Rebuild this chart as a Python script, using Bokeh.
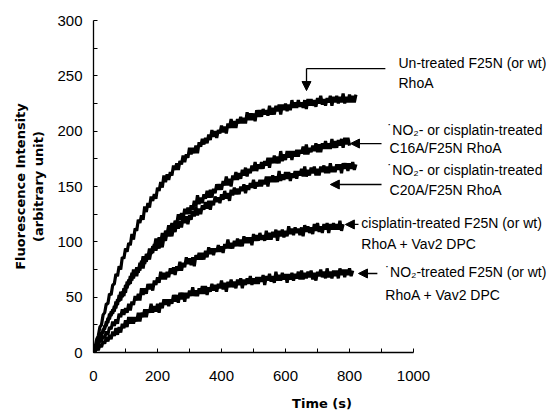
from bokeh.plotting import figure
from bokeh.models import Range1d, FixedTicker, Arrow, NormalHead, Label
from bokeh.embed import file_html
from bokeh.resources import INLINE

# sample times (s), one reading every 5 s
time_s = list(range(0, 825, 5))

untreated = [0, 5, 12, 15, 23, 25, 34, 36, 44, 44, 53, 52, 61, 62, 71, 69, 78, 75, 86, 85,
             94, 91, 99, 97, 107, 102, 112, 110, 120, 117, 124, 120, 132, 127, 135, 131, 141, 137, 143, 139,
             149, 146, 154, 149, 160, 154, 161, 156, 163, 160, 169, 165, 171, 165, 173, 170, 178, 172, 179, 176,
             185, 179, 185, 180, 187, 180, 190, 186, 193, 188, 194, 189, 197, 192, 201, 195, 200, 194, 201, 198,
             205, 199, 204, 198, 207, 203, 211, 203, 209, 203, 211, 207, 213, 207, 212, 207, 217, 210, 216, 210,
             216, 209, 219, 213, 219, 213, 220, 215, 219, 214, 223, 215, 221, 215, 223, 218, 224, 215, 224, 219,
             225, 218, 224, 219, 228, 221, 226, 221, 228, 222, 226, 221, 228, 220, 229, 223, 229, 223, 228, 222,
             230, 225, 232, 224, 229, 223, 230, 226, 232, 223, 231, 226, 232, 225, 231, 226, 234, 225, 231, 226,
             233, 226, 232, 226, 233]
c16a = [0, 4, 6, 11, 12, 18, 18, 24, 24, 31, 30, 37, 35, 42, 40, 48, 46, 55, 50, 58,
        54, 64, 61, 69, 65, 75, 70, 77, 72, 81, 78, 87, 80, 89, 86, 94, 89, 96, 94, 103,
        97, 104, 99, 108, 101, 110, 107, 115, 111, 117, 112, 119, 116, 125, 120, 126, 120, 130, 125, 131,
        125, 133, 129, 137, 132, 142, 134, 140, 135, 143, 139, 146, 140, 147, 140, 148, 144, 152, 147, 152,
        147, 155, 151, 159, 151, 157, 150, 160, 156, 163, 156, 162, 157, 165, 160, 167, 159, 166, 162, 169,
        164, 172, 164, 170, 166, 172, 166, 173, 169, 176, 167, 176, 171, 178, 171, 177, 171, 182, 173, 179,
        174, 182, 176, 182, 174, 182, 177, 183, 177, 183, 180, 186, 179, 188, 179, 185, 181, 187, 182, 189,
        181, 188, 181, 189, 184, 191, 184, 189, 184, 193, 185, 191, 185, 192, 187, 193, 185, 194, 188, 194,
        187]
c20a = [0, 3, 8, 9, 16, 15, 21, 21, 28, 27, 35, 33, 39, 37, 46, 43, 52, 47, 55, 51,
        61, 58, 66, 62, 72, 67, 74, 69, 77, 74, 83, 76, 85, 82, 89, 84, 92, 90, 98, 92,
        98, 94, 103, 95, 104, 101, 109, 105, 111, 105, 113, 109, 118, 112, 119, 113, 122, 117, 123, 116,
        124, 120, 128, 123, 132, 124, 130, 125, 133, 129, 136, 130, 137, 129, 137, 133, 141, 136, 140, 135,
        143, 138, 146, 139, 144, 137, 147, 142, 149, 143, 148, 143, 150, 146, 152, 144, 151, 147, 153, 149,
        156, 148, 154, 150, 156, 150, 156, 152, 159, 150, 159, 154, 160, 154, 159, 154, 164, 155, 161, 156,
        163, 157, 163, 155, 162, 158, 164, 157, 164, 160, 166, 159, 168, 159, 165, 160, 167, 162, 168, 160,
        166, 160, 168, 163, 169, 162, 168, 162, 171, 163, 168, 163, 170, 165, 170, 162, 171, 166, 171, 164,
        171, 166, 172, 165, 170]
cis_vav2 = [0, 1, 6, 5, 11, 10, 15, 13, 19, 16, 23, 21, 28, 24, 30, 26, 35, 32, 39, 34,
            40, 36, 44, 38, 46, 43, 51, 47, 53, 47, 58, 52, 58, 53, 62, 57, 62, 56, 65, 61,
            68, 63, 73, 66, 72, 66, 73, 68, 76, 71, 77, 70, 78, 74, 82, 74, 81, 77, 86, 80,
            85, 79, 86, 78, 88, 84, 90, 84, 90, 84, 92, 86, 95, 89, 94, 88, 94, 91, 97, 91,
            96, 90, 98, 94, 102, 94, 99, 94, 101, 96, 103, 96, 102, 96, 105, 99, 104, 99, 104, 97,
            107, 101, 106, 101, 108, 102, 106, 101, 110, 102, 108, 102, 109, 104, 111, 101, 110, 105, 111, 104,
            110, 105, 114, 107, 112, 106, 113, 108, 112, 106, 113, 105, 115, 109, 114, 108, 113, 107, 116, 110,
            117, 109, 114, 108, 116, 111, 117, 108, 116, 111, 117, 111, 116, 111, 119, 110, 116]
no2_vav2 = [0, 1, 5, 2, 7, 5, 10, 8, 14, 10, 16, 12, 19, 15, 22, 16, 23, 18, 26, 22,
            29, 23, 32, 26, 32, 26, 32, 28, 36, 28, 36, 32, 39, 32, 39, 36, 44, 36, 42, 37,
            44, 36, 45, 40, 48, 43, 48, 42, 48, 44, 52, 46, 52, 45, 54, 48, 54, 46, 54, 49,
            56, 51, 59, 51, 56, 51, 58, 53, 60, 53, 60, 52, 59, 55, 62, 56, 61, 55, 62, 58,
            65, 57, 63, 55, 64, 59, 66, 59, 64, 58, 66, 61, 67, 58, 66, 61, 67, 62, 69, 61,
            67, 62, 68, 62, 68, 64, 70, 61, 69, 65, 71, 64, 69, 63, 73, 65, 70, 65, 72, 66,
            71, 63, 71, 66, 72, 65, 71, 67, 73, 66, 74, 66, 72, 67, 73, 68, 74, 66, 72, 65,
            73, 69, 75, 68, 73, 67, 76, 68, 73, 67, 74, 69, 74, 67, 76, 70, 75, 68, 75, 70,
            76, 69, 74]

x_ticks = [0, 200, 400, 600, 800, 1000]
x_minor = [100, 300, 500, 700, 900]
y_ticks = [0, 50, 100, 150, 200, 250, 300]
y_minor = [25, 75, 125, 175, 225, 275]

series = [untreated, c16a, c20a, cis_vav2, no2_vav2]

p = figure(width=550, height=418, output_backend="svg", toolbar_location=None,
           x_range=Range1d(0, 1428), y_range=Range1d(0, 300),
           min_border_left=93, min_border_right=0, min_border_top=20, min_border_bottom=66)
p.outline_line_color = None
p.xgrid.visible = False
p.ygrid.visible = False
p.background_fill_color = "white"
p.border_fill_color = "white"

for ys in series:
    p.line(time_s[:len(ys)], ys, line_color="black", line_width=3.2)

for ax in (p.xaxis[0], p.yaxis[0]):
    ax.axis_line_color = "black"
    ax.axis_line_width = 1.3
    ax.major_tick_in = 4
    ax.major_tick_out = 0
    ax.minor_tick_in = 4
    ax.minor_tick_out = 0
    ax.major_tick_line_color = "black"
    ax.minor_tick_line_color = "black"
    ax.major_label_text_font = "Liberation Sans"
    ax.major_label_text_font_size = "15px"
    ax.major_label_text_color = "black"
    ax.axis_label_text_font = "DejaVu Sans"
    ax.axis_label_text_font_style = "bold"
    ax.axis_label_text_font_size = "13px"
    ax.axis_label_text_color = "black"

p.xaxis.ticker = FixedTicker(ticks=x_ticks, minor_ticks=x_minor)
p.yaxis.ticker = FixedTicker(ticks=y_ticks, minor_ticks=y_minor)
p.xaxis.bounds = (0, 1000)
p.yaxis.bounds = (0, 300)
p.xaxis.major_label_standoff = 18
p.yaxis.major_label_standoff = 11
p.xaxis.axis_label = "Time (s)"
p.xaxis.axis_label_standoff = 12
p.yaxis.axis_label = "Fluorescence Intensity\n(arbitrary unit)"
p.yaxis.axis_label_standoff = 8

labels = [
    ("Un-treated F25N (or wt)", 953, 262.0),
    ("RhoA", 953, 243.1),
    ("\u02d9NO\u2082- or cisplatin-treated", 919, 201.5),
    ("C16A/F25N RhoA", 925, 185.2),
    ("\u02d9NO\u2082- or cisplatin-treated", 919, 164.5),
    ("C20A/F25N RhoA", 925, 146.4),
    ("cisplatin-treated F25N (or wt)", 837, 116.6),
    ("RhoA + Vav2 DPC", 837, 97.6),
    ("\u02d9NO\u2082-treated F25N (or wt)", 912, 72.3),
    ("RhoA + Vav2 DPC", 912, 52.4),
]
for txt, lx, ly in labels:
    p.add_layout(Label(x=lx, y=ly, text=txt, text_font="Liberation Sans",
                       text_font_size="14px", text_color="black",
                       text_baseline="middle", text_align="left"))

def head():
    return NormalHead(size=9, fill_color="black", line_color="black", line_width=1)

p.add_layout(Arrow(end=None, x_start=912, y_start=256.6, x_end=665.6, y_end=256.6,
                   line_color="black", line_width=1.3))
p.add_layout(Arrow(end=head(), x_start=665.6, y_start=256.6, x_end=665.6, y_end=236.7,
                   line_color="black", line_width=1.3))
p.add_layout(Arrow(end=head(), x_start=900, y_start=188.8, x_end=803, y_end=188.8,
                   line_color="black", line_width=1.3))
p.add_layout(Arrow(end=head(), x_start=900, y_start=151.8, x_end=740, y_end=151.8,
                   line_color="black", line_width=1.3))
p.add_layout(Arrow(end=head(), x_start=828, y_start=115.7, x_end=787, y_end=115.7,
                   line_color="black", line_width=1.3))
p.add_layout(Arrow(end=head(), x_start=887, y_start=71.4, x_end=828, y_end=71.4,
                   line_color="black", line_width=1.3))

open("out.html", "w").write(file_html(p, INLINE))
